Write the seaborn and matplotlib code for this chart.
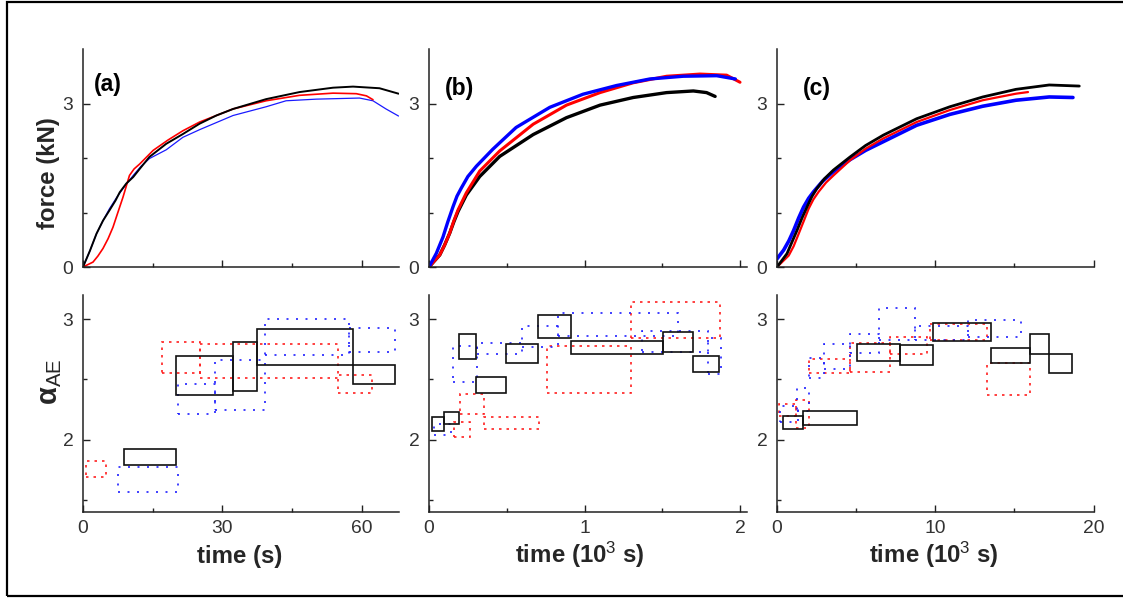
import numpy as np
import pandas as pd
import matplotlib
matplotlib.use("Agg")
import matplotlib.pyplot as plt
import seaborn as sns
from matplotlib.patches import Rectangle

# ---------------- data: force curves (top row) ----------------
# panel (a): time in s, force in kN
a_black_t = [0, 1.5, 2.9, 4.3, 5.7, 7.0, 7.9, 9.3, 10.8, 12.2, 14.3, 17.9, 21.5, 25.1, 28.7, 32.3, 39.4, 46.6, 53.8, 58.1, 63.8, 67.9]
a_black_f = [0, 0.30, 0.61, 0.85, 1.04, 1.22, 1.37, 1.53, 1.65, 1.80, 2.02, 2.26, 2.44, 2.63, 2.78, 2.90, 3.08, 3.21, 3.29, 3.31, 3.28, 3.18]
a_red_t = [0, 2.15, 3.2, 4.3, 5.4, 6.45, 7.5, 8.6, 10.0, 11.0, 12.2, 15.1, 18.3, 21.5, 25.1, 32.3, 39.4, 46.6, 53.8, 58.8, 61.0, 62.4]
a_red_f = [0, 0.09, 0.20, 0.34, 0.52, 0.73, 1.00, 1.28, 1.68, 1.80, 1.89, 2.14, 2.33, 2.50, 2.66, 2.90, 3.05, 3.15, 3.19, 3.18, 3.14, 3.07]
a_blue_t = [0, 1.5, 2.9, 4.3, 5.7, 7.2, 8.6, 10.8, 12.5, 14.3, 17.9, 21.5, 25.1, 32.3, 39.4, 43.7, 50.2, 59.5, 62.4, 65.2, 67.9]
a_blue_f = [0, 0.30, 0.61, 0.85, 1.07, 1.27, 1.44, 1.68, 1.85, 1.99, 2.15, 2.38, 2.52, 2.78, 2.94, 3.05, 3.08, 3.10, 3.05, 2.90, 2.77]

# panel (b): time in 10^3 s
b_blue_t = [0, 0.047, 0.09, 0.12, 0.155, 0.18, 0.208, 0.25, 0.305, 0.41, 0.56, 0.777, 0.99, 1.206, 1.42, 1.635, 1.85, 1.97]
b_blue_f = [0, 0.25, 0.55, 0.82, 1.11, 1.30, 1.45, 1.66, 1.85, 2.16, 2.56, 2.93, 3.17, 3.33, 3.45, 3.50, 3.51, 3.45]
b_red_t = [0, 0.069, 0.10, 0.133, 0.16, 0.187, 0.24, 0.326, 0.455, 0.67, 0.884, 1.10, 1.313, 1.528, 1.742, 1.914, 2.0]
b_red_f = [0, 0.22, 0.40, 0.62, 0.85, 1.05, 1.36, 1.76, 2.13, 2.62, 2.97, 3.20, 3.38, 3.50, 3.54, 3.52, 3.39]
b_black_t = [0, 0.069, 0.10, 0.133, 0.16, 0.187, 0.24, 0.326, 0.455, 0.67, 0.884, 1.10, 1.313, 1.528, 1.70, 1.785, 1.84]
b_black_f = [0, 0.22, 0.40, 0.62, 0.83, 1.02, 1.32, 1.66, 2.03, 2.43, 2.74, 2.97, 3.11, 3.20, 3.23, 3.20, 3.13]

# panel (c): time in 10^3 s
c_black_t = [0, 0.63, 1.26, 1.58, 1.89, 2.2, 2.52, 3.0, 3.57, 4.62, 5.6, 6.72, 8.82, 10.92, 13.0, 15.1, 17.2, 19.1]
c_black_f = [0, 0.245, 0.67, 0.90, 1.10, 1.29, 1.44, 1.62, 1.78, 2.02, 2.23, 2.42, 2.72, 2.94, 3.12, 3.26, 3.34, 3.32]
c_red_t = [0, 0.74, 1.05, 1.37, 1.7, 2.0, 2.3, 2.63, 3.1, 3.57, 4.62, 5.6, 6.72, 8.82, 10.92, 13.0, 15.1, 15.86]
c_red_f = [0, 0.21, 0.38, 0.61, 0.85, 1.07, 1.24, 1.38, 1.55, 1.68, 1.96, 2.17, 2.36, 2.66, 2.88, 3.06, 3.18, 3.21]
c_blue_t = [0, 0.42, 0.75, 1.05, 1.37, 1.68, 2.0, 2.31, 2.9, 3.57, 4.62, 5.6, 6.72, 8.82, 10.92, 13.0, 15.1, 17.2, 18.7]
c_blue_f = [0.15, 0.31, 0.48, 0.67, 0.90, 1.10, 1.26, 1.38, 1.58, 1.75, 1.97, 2.14, 2.30, 2.60, 2.80, 2.95, 3.06, 3.12, 3.11]

# ---------------- data: alpha_AE boxes (bottom row) ----------------
# each box: (t_start, t_end, alpha_low, alpha_high)
a_black_boxes = [(8.8, 20.0, 1.79, 1.92), (20.0, 32.2, 2.37, 2.69), (32.2, 37.5, 2.40, 2.81),
                 (37.5, 58.0, 2.62, 2.92), (58.0, 67.2, 2.46, 2.62)]
a_red_boxes = [(0.6, 5.0, 1.69, 1.82), (17.0, 25.2, 2.55, 2.81), (25.2, 54.8, 2.51, 2.79),
               (54.8, 62.2, 2.39, 2.54)]
a_blue_boxes = [(7.6, 20.5, 1.57, 1.77), (20.4, 28.3, 2.21, 2.46), (28.3, 39.2, 2.25, 2.66),
                (39.2, 57.3, 2.70, 3.00), (57.3, 67.2, 2.73, 2.93)]

b_black_boxes = [(0.02, 0.095, 2.07, 2.19), (0.095, 0.19, 2.13, 2.23), (0.19, 0.305, 2.67, 2.88),
                 (0.305, 0.498, 2.39, 2.52), (0.498, 0.70, 2.64, 2.79), (0.70, 0.91, 2.84, 3.03),
                 (0.91, 1.506, 2.71, 2.82), (1.506, 1.70, 2.73, 2.89), (1.70, 1.866, 2.56, 2.69)]
b_red_boxes = [(0.161, 0.262, 2.02, 2.15), (0.198, 0.354, 2.21, 2.38), (0.354, 0.708, 2.09, 2.19),
               (0.756, 1.297, 2.39, 2.78), (1.297, 1.872, 2.84, 3.14)]
b_blue_boxes = [(0.03, 0.144, 2.04, 2.13), (0.157, 0.309, 2.48, 2.78), (0.309, 0.595, 2.71, 2.80),
                (0.595, 0.827, 2.77, 2.94), (0.827, 1.603, 2.86, 3.05), (1.367, 1.797, 2.73, 2.90),
                (1.797, 1.876, 2.545, 2.84)]

c_black_boxes = [(0.36, 1.62, 2.09, 2.20), (1.62, 5.05, 2.12, 2.24), (5.05, 7.79, 2.65, 2.795),
                 (7.79, 9.85, 2.62, 2.786), (9.85, 13.55, 2.82, 2.97), (13.55, 16.0, 2.64, 2.76),
                 (16.0, 17.18, 2.71, 2.88), (17.18, 18.61, 2.55, 2.71)]
c_red_boxes = [(0.15, 1.2, 2.20, 2.30), (1.2, 2.0, 2.10, 2.33), (2.0, 4.63, 2.55, 2.67),
               (4.63, 7.11, 2.56, 2.80), (7.11, 9.47, 2.71, 2.85), (9.66, 13.24, 2.83, 2.96),
               (13.24, 15.97, 2.37, 2.64)]
c_blue_boxes = [(0.2, 1.3, 2.15, 2.28), (1.26, 2.0, 2.24, 2.43), (2.0, 2.94, 2.51, 2.68),
                (2.94, 4.63, 2.59, 2.795), (4.63, 6.42, 2.72, 2.88), (6.42, 8.74, 2.83, 3.09),
                (8.74, 12.1, 2.83, 2.94), (12.1, 15.44, 2.85, 2.99)]

# ---------------- style ----------------
sns.set_theme(style="white")
plt.rcParams["font.family"] = ["Liberation Sans", "DejaVu Sans"]
plt.rcParams["mathtext.fontset"] = "custom"
plt.rcParams["mathtext.rm"] = "Liberation Sans"
plt.rcParams["mathtext.bf"] = "Liberation Sans:bold"
plt.rcParams["mathtext.it"] = "Liberation Sans:italic"

W, H = 1123, 599
fig = plt.figure(figsize=(W / 100, H / 100), dpi=100)
fig.patch.set_facecolor("white")

def ax_rect(left, right, top, bottom):
    return [left / W, 1 - bottom / H, (right - left) / W, (bottom - top) / H]

cols_x = [(83, 399), (429, 747), (777, 1094)]
top_y = (49, 267)
bot_y = (295, 512)

xlims = [(0, 68), (0, 2.045), (0, 20.03)]
xmajor = [[0, 30, 60], [0, 1, 2], [0, 10, 20]]
xminor = [[15, 45], [0.5, 1.5], [5, 15]]

TICKCOL = "#333333"
TICKFS = 13.9
LABFS = 17.3

def style_axes(ax, xl, xmaj, xmin, ylim, ymaj, ymin, show_xlabels):
    ax.set_xlim(*xl)
    ax.set_ylim(*ylim)
    for s in ["top", "right"]:
        ax.spines[s].set_visible(False)
    for s in ["left", "bottom"]:
        ax.spines[s].set_color("#222222")
        ax.spines[s].set_linewidth(1.1)
    ax.set_xticks(xmaj)
    ax.set_xticks(xmin, minor=True)
    ax.set_yticks(ymaj)
    ax.set_yticks(ymin, minor=True)
    ax.set_yticklabels([f"{v:g}" for v in ymaj])
    if show_xlabels:
        ax.set_xticklabels([f"{v:g}" for v in xmaj])
    else:
        ax.set_xticklabels([])
    ax.tick_params(which="major", direction="in", length=5, width=1.0, color="#222222",
                   labelsize=TICKFS, labelcolor=TICKCOL, left=True, bottom=True)
    ax.tick_params(which="minor", direction="in", length=3, width=1.0, color="#222222",
                   left=True, bottom=True)
    ax.tick_params(axis="y", which="major", pad=7)
    ax.tick_params(axis="x", which="major", pad=6)
    ax.set_xlabel("")
    ax.set_ylabel("")
    ax.grid(False)
    ax.set_facecolor("none")

force_sets = [
    [(a_blue_t, a_blue_f, "#1a1aff", 0.9), (a_red_t, a_red_f, "#ff0000", 1.2), (a_black_t, a_black_f, "#000000", 1.4)],
    [(b_black_t, b_black_f, "#000000", 2.4), (b_red_t, b_red_f, "#ff0000", 2.2), (b_blue_t, b_blue_f, "#0000ff", 2.4)],
    [(c_blue_t, c_blue_f, "#0000ff", 2.6), (c_red_t, c_red_f, "#ff0000", 1.6), (c_black_t, c_black_f, "#000000", 2.0)],
]
box_sets = [
    (a_red_boxes, a_blue_boxes, a_black_boxes),
    (b_red_boxes, b_blue_boxes, b_black_boxes),
    (c_red_boxes, c_blue_boxes, c_black_boxes),
]
panel_tags = ["(a)", "(b)", "(c)"]
tag_pos = [(108, 85), (459, 88), (817, 89)]

for i in range(3):
    l, r = cols_x[i]
    ax_t = fig.add_axes(ax_rect(l, r, *top_y))
    for t, f, c, lw in force_sets[i]:
        df = pd.DataFrame({"t": t, "f": f})
        sns.lineplot(data=df, x="t", y="f", ax=ax_t, color=c, linewidth=lw,
                     sort=False, estimator=None)
    style_axes(ax_t, xlims[i], xmajor[i], xminor[i], (0, 4), [0, 3], [1, 2], False)

    ax_b = fig.add_axes(ax_rect(l, r, *bot_y))
    red_b, blue_b, black_b = box_sets[i]
    for (x0, x1, y0, y1) in red_b:
        ax_b.add_patch(Rectangle((x0, y0), x1 - x0, y1 - y0, fill=False, ec="#ff2020",
                                 lw=1.2, ls=(0, (1.5, 3.0)), zorder=2))
    for (x0, x1, y0, y1) in blue_b:
        ax_b.add_patch(Rectangle((x0, y0), x1 - x0, y1 - y0, fill=False, ec="#2020ff",
                                 lw=1.2, ls=(0, (1.2, 4.5)), zorder=2))
    for (x0, x1, y0, y1) in black_b:
        ax_b.add_patch(Rectangle((x0, y0), x1 - x0, y1 - y0, fill=False, ec="#111111",
                                 lw=1.2, ls="-", zorder=3))
    style_axes(ax_b, xlims[i], xmajor[i], xminor[i], (1.4, 3.2), [2, 3], [1.5, 2.5], True)

    tx, ty = tag_pos[i]
    fig.text(tx / W, 1 - ty / H, panel_tags[i], fontsize=16.5, fontweight="bold",
             ha="center", va="center", color="black")

# axis labels
fig.text(48 / W, 1 - 173 / H, "force (kN)", rotation=90, fontsize=LABFS, fontweight="bold",
         ha="center", va="center")
fig.text(50 / W, 1 - 382 / H, "\u03b1$_{\\mathrm{AE}}$", rotation=90, fontsize=21,
         fontweight="bold", ha="center", va="center")
xlabels = ["time (s)", r"time (10$^{\mathrm{3}}$ s)", r"time (10$^{\mathrm{3}}$ s)"]
xlab_pos = [(240, 557), (580, 555), (934, 555)]
for lab, (px, py) in zip(xlabels, xlab_pos):
    fig.text(px / W, 1 - py / H, lab, fontsize=LABFS, fontweight="bold", ha="center", va="center")

# figure frame (right edge lies outside the image)
fig.add_artist(Rectangle((7 / W, 3 / H), 1.0, 1 - 5 / H, transform=fig.transFigure,
                         fill=False, ec="black", lw=1.6, clip_on=False))

fig.savefig("out.png", dpi=100, facecolor="white")
